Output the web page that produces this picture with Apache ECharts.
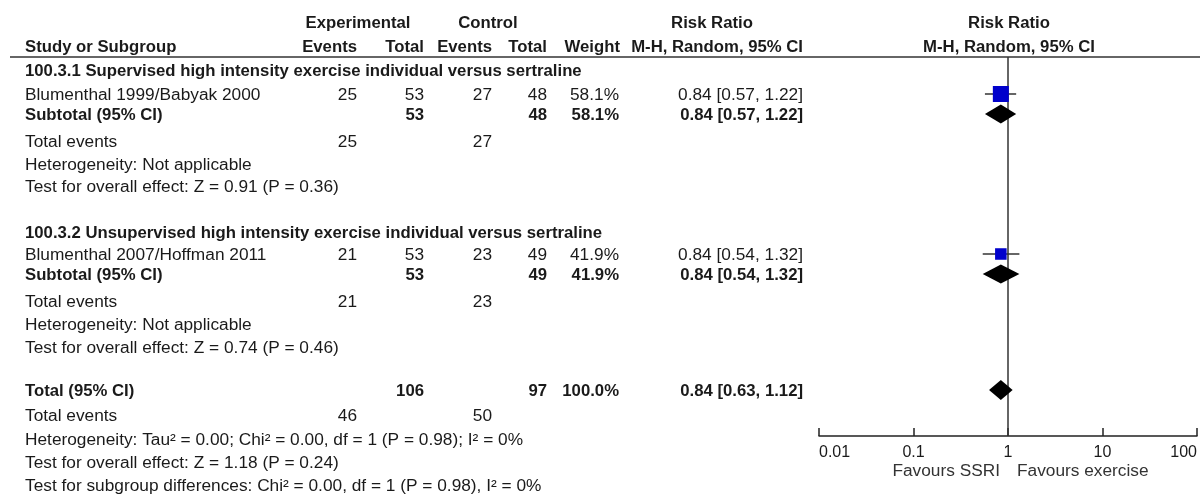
<!DOCTYPE html>
<html><head><meta charset="utf-8">
<script src="https://cdn.jsdelivr.net/npm/echarts@6/dist/echarts.min.js"></script>
<style>html,body{margin:0;padding:0;background:#fff}#c{width:1200px;height:494px}</style>
</head><body><div id="c"></div>
<script>
// ---------- data ----------
const studyNames = ['Blumenthal 1999/Babyak 2000', 'Blumenthal 2007/Hoffman 2011'];
const subgroupTitles = ['100.3.1 Supervised high intensity exercise individual versus sertraline',
                        '100.3.2 Unsupervised high intensity exercise individual versus sertraline'];
const expEvents = [25, 21];
const expTotal = [53, 53];
const ctlEvents = [27, 23];
const ctlTotal = [48, 49];
const weights = [58.1, 41.9];
const rr = [0.84, 0.84];
const rrLow = [0.57, 0.54];
const rrHigh = [1.22, 1.32];
const subRR = [0.84, 0.84];
const subLow = [0.57, 0.54];
const subHigh = [1.22, 1.32];
const subHeterogeneity = ['Heterogeneity: Not applicable', 'Heterogeneity: Not applicable'];
const subOverall = ['Test for overall effect: Z = 0.91 (P = 0.36)', 'Test for overall effect: Z = 0.74 (P = 0.46)'];
const totalExp = 106, totalCtl = 97, totalWeight = 100.0;
const totalRR = 0.84, totalLow = 0.63, totalHigh = 1.12;
const totalEventsExp = 46, totalEventsCtl = 50;
const footLines = ['Heterogeneity: Tau\u00b2 = 0.00; Chi\u00b2 = 0.00, df = 1 (P = 0.98); I\u00b2 = 0%',
                   'Test for overall effect: Z = 1.18 (P = 0.24)',
                   'Test for subgroup differences: Chi\u00b2 = 0.00, df = 1 (P = 0.98), I\u00b2 = 0%'];
const axisTicks = [0.01, 0.1, 1, 10, 100];
const favourLabels = ['Favours SSRI', 'Favours exercise'];

// ---------- layout ----------
const FONT = "'Liberation Sans', Arial, sans-serif";
const FS = 16;
const INK = '#1a1a1a';
const DY = 1.5;               // glyph centring offset
const SX_REG = 1.08, SX_BOLD = 1.045;
const colX = {name: 25, expE: 357, expT: 424, ctlE: 492, ctlT: 547, w: 619, ci: 803};
const groupRowY = [[70, 94, 114, 141, 164, 186], [232, 254, 274, 301, 324, 347]];
const totalRowY = [390, 415, 439, 462, 485];
const SQ = 16 / 58.1; // px per % weight

const fmt = v => v.toFixed(2);
const ciText = (m, l, h) => fmt(m) + ' [' + fmt(l) + ', ' + fmt(h) + ']';

const g = [];
function t(text, x, y, align, bold, color) {
  g.push({type: 'text', x: x, y: y + DY, scaleX: bold ? SX_BOLD : SX_REG, silent: true, style: {
    text: String(text), fontFamily: FONT, fontSize: FS, fontWeight: bold ? 'bold' : 'normal',
    fill: color || INK, align: align || 'left', verticalAlign: 'middle',
    textAlign: align || 'left', textVerticalAlign: 'middle'}});
}
// headers
t('Experimental', 358, 22, 'center', true);
t('Control', 488, 22, 'center', true);
t('Risk Ratio', 712, 22, 'center', true);
t('Risk Ratio', 1009, 22, 'center', true);
t('Study or Subgroup', colX.name, 46, 'left', true);
t('Events', colX.expE, 46, 'right', true);
t('Total', colX.expT, 46, 'right', true);
t('Events', colX.ctlE, 46, 'right', true);
t('Total', colX.ctlT, 46, 'right', true);
t('Weight', colX.w + 1, 46, 'right', true);
t('M-H, Random, 95% CI', colX.ci, 46, 'right', true);
t('M-H, Random, 95% CI', 1009, 46, 'center', true);
g.push({type: 'line', silent: true, shape: {x1: 10, y1: 57, x2: 1200, y2: 57}, style: {stroke: '#333', lineWidth: 1.5}});

for (let i = 0; i < 2; i++) {
  const ry = groupRowY[i];
  t(subgroupTitles[i], colX.name, ry[0], 'left', true);
  t(studyNames[i], colX.name, ry[1], 'left', false);
  t(expEvents[i], colX.expE, ry[1], 'right');
  t(expTotal[i], colX.expT, ry[1], 'right');
  t(ctlEvents[i], colX.ctlE, ry[1], 'right');
  t(ctlTotal[i], colX.ctlT, ry[1], 'right');
  t(weights[i].toFixed(1) + '%', colX.w, ry[1], 'right');
  t(ciText(rr[i], rrLow[i], rrHigh[i]), colX.ci, ry[1], 'right');
  t('Subtotal (95% CI)', colX.name, ry[2], 'left', true);
  t(expTotal[i], colX.expT, ry[2], 'right', true);
  t(ctlTotal[i], colX.ctlT, ry[2], 'right', true);
  t(weights[i].toFixed(1) + '%', colX.w, ry[2], 'right', true);
  t(ciText(subRR[i], subLow[i], subHigh[i]), colX.ci, ry[2], 'right', true);
  t('Total events', colX.name, ry[3], 'left');
  t(expEvents[i], colX.expE, ry[3], 'right');
  t(ctlEvents[i], colX.ctlE, ry[3], 'right');
  t(subHeterogeneity[i], colX.name, ry[4], 'left');
  t(subOverall[i], colX.name, ry[5], 'left');
}
t('Total (95% CI)', colX.name, totalRowY[0], 'left', true);
t(totalExp, colX.expT, totalRowY[0], 'right', true);
t(totalCtl, colX.ctlT, totalRowY[0], 'right', true);
t(totalWeight.toFixed(1) + '%', colX.w, totalRowY[0], 'right', true);
t(ciText(totalRR, totalLow, totalHigh), colX.ci, totalRowY[0], 'right', true);
t('Total events', colX.name, totalRowY[1], 'left');
t(totalEventsExp, colX.expE, totalRowY[1], 'right');
t(totalEventsCtl, colX.ctlE, totalRowY[1], 'right');
footLines.forEach((s, k) => t(s, colX.name, totalRowY[2 + k], 'left'));
t(favourLabels[0], 1000, 470, 'right', false, '#333');
t(favourLabels[1], 1017, 470, 'left', false, '#333');

const studyData = studyNames.map((n, i) => [rr[i], groupRowY[i][1], rrLow[i], rrHigh[i], weights[i]]);
const diamondData = subRR.map((m, i) => [m, groupRowY[i][2], subLow[i], subHigh[i], 9.5])
  .concat([[totalRR, totalRowY[0], totalLow, totalHigh, 10]]);

const chart = echarts.init(document.getElementById('c'), null, {renderer: 'canvas'});
chart.setOption({
  animation: false,
  backgroundColor: '#fff',
  grid: {left: 819, right: 1, top: 57, height: 379, containLabel: false},
  xAxis: {
    type: 'log', logBase: 10, min: axisTicks[0], max: axisTicks[axisTicks.length - 1],
    axisLine: {show: true, lineStyle: {color: '#222', width: 1.5}},
    axisTick: {show: true, inside: true, length: 8, lineStyle: {color: '#222', width: 1.5}},
    minorTick: {show: false},
    splitLine: {show: false},
    axisLabel: {show: true, margin: 9, fontFamily: FONT, fontSize: FS, color: INK,
      alignMinLabel: 'left', alignMaxLabel: 'right',
      formatter: v => String(+v.toPrecision(2))}
  },
  yAxis: {type: 'value', inverse: true, min: 57, max: 436, show: false},
  graphic: {elements: g},
  series: [
    {
      type: 'custom', clip: false, z: 5,
      encode: {x: [0, 2, 3], y: 1},
      data: studyData,
      renderItem: function (params, api) {
        const c = api.coord([api.value(0), api.value(1)]);
        const l = api.coord([api.value(2), api.value(1)]);
        const h = api.coord([api.value(3), api.value(1)]);
        const s = api.value(4) * SQ;
        return {type: 'group', children: [
          {type: 'line', shape: {x1: l[0], y1: c[1], x2: h[0], y2: c[1]}, style: {stroke: '#333', lineWidth: 1.5}},
          {type: 'rect', shape: {x: c[0] - s / 2, y: c[1] - s / 2, width: s, height: s}, style: {fill: '#0000CC'}}
        ]};
      },
      markLine: {
        silent: true, symbol: 'none', label: {show: false},
        lineStyle: {color: '#333', width: 1.5, type: 'solid'},
        data: [{xAxis: 1}]
      }
    },
    {
      type: 'custom', clip: false, z: 6,
      encode: {x: [0, 2, 3], y: 1},
      data: diamondData,
      renderItem: function (params, api) {
        const c = api.coord([api.value(0), api.value(1)]);
        const l = api.coord([api.value(2), api.value(1)]);
        const h = api.coord([api.value(3), api.value(1)]);
        const hh = api.value(4);
        return {type: 'polygon', shape: {points: [[l[0], c[1]], [c[0], c[1] - hh], [h[0], c[1]], [c[0], c[1] + hh]]},
          style: {fill: '#000'}};
      }
    }
  ]
});
</script></body></html>
